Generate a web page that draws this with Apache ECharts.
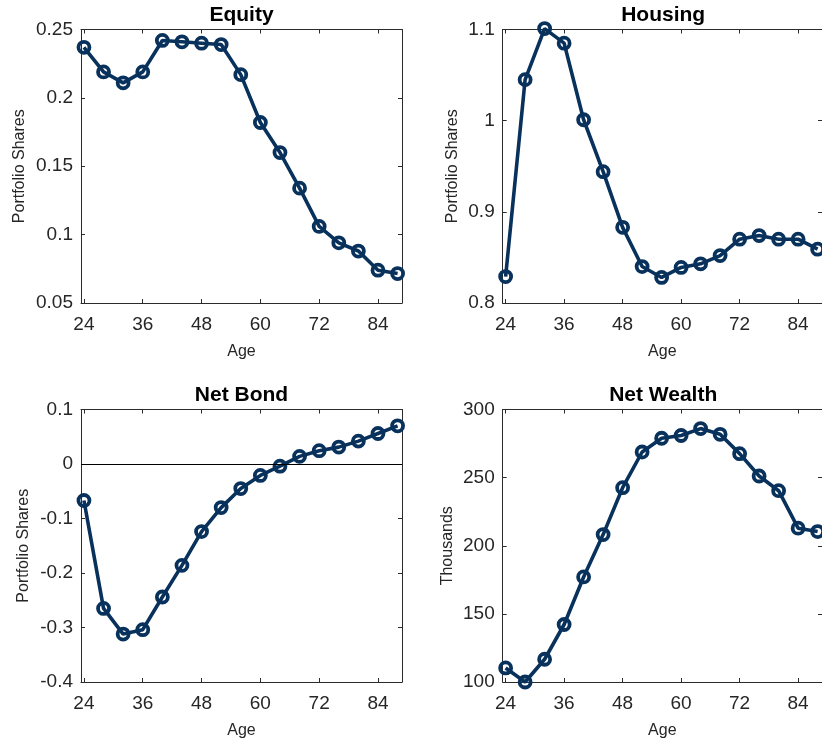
<!DOCTYPE html>
<html>
<head>
<meta charset="utf-8">
<title>Life-cycle portfolio profiles</title>
<script src="https://cdn.jsdelivr.net/npm/echarts@6/dist/echarts.min.js"></script>
<style>
  html, body { margin: 0; padding: 0; background: #ffffff; }
  #chart { width: 822px; height: 744px; }
</style>
</head>
<body>
<div id="chart"></div>
<script>
// Age profile, every four years
const ages = [24, 28, 32, 36, 40, 44, 48, 52, 56, 60, 64, 68, 72, 76, 80, 84, 88];

// Portfolio shares by age
const equityShares  = [0.237, 0.219, 0.211, 0.219, 0.242, 0.241, 0.240, 0.239, 0.217, 0.182, 0.160, 0.134, 0.106, 0.094, 0.088, 0.074, 0.0715];
const housingShares = [0.829, 1.045, 1.101, 1.085, 1.001, 0.944, 0.883, 0.840, 0.828, 0.839, 0.843, 0.852, 0.870, 0.874, 0.870, 0.870, 0.859];
const netBondShares = [-0.067, -0.265, -0.312, -0.304, -0.244, -0.186, -0.124, -0.080, -0.045, -0.021, -0.004, 0.014, 0.0245, 0.031, 0.042, 0.056, 0.070];

// Net wealth, thousands
const netWealth = [110.3, 100.0, 116.7, 142.2, 177.1, 208.2, 242.6, 268.8, 278.9, 280.9, 286.0, 281.8, 267.6, 251.2, 240.4, 212.9, 210.4];

// Tick values
const ageTicks     = [24, 36, 48, 60, 72, 84];
const equityTicks  = [0.05, 0.1, 0.15, 0.2, 0.25];
const housingTicks = [0.8, 0.9, 1, 1.1];
const bondTicks    = [-0.4, -0.3, -0.2, -0.1, 0, 0.1];
const wealthTicks  = [100, 150, 200, 250, 300];

const LINE = '#08315c';
const AXIS = '#2b2b2b';
const TEXT = '#262626';
const FONT = 'Liberation Sans, Arial, Helvetica, sans-serif';

const panels = [
  { title: 'Equity',     data: equityShares,  ticks: equityTicks,  yMin: 0.05, yMax: 0.25, yName: 'Portfolio Shares', nameGap: 53,
    grid: { left: 81, top: 29.5, width: 321, height: 273.5 } },
  { title: 'Housing',    data: housingShares, ticks: housingTicks, yMin: 0.8,  yMax: 1.1,  yName: 'Portfolio Shares', nameGap: 42,
    grid: { left: 502.7, top: 29.5, width: 321, height: 273.5 } },
  { title: 'Net Bond',   data: netBondShares, ticks: bondTicks,    yMin: -0.4, yMax: 0.1,  yName: 'Portfolio Shares', nameGap: 49,
    grid: { left: 81, top: 409.5, width: 321, height: 272.5 }, zeroLine: true },
  { title: 'Net Wealth', data: netWealth,     ticks: wealthTicks,  yMin: 100,  yMax: 300,  yName: 'Thousands',        nameGap: 47,
    grid: { left: 502.7, top: 409.5, width: 321, height: 272.5 } }
];

const X_MIN = 23.4, X_MAX = 88.9;

const grids = [], xAxes = [], yAxes = [], series = [], titles = [];

panels.forEach((p, i) => {
  grids.push(p.grid);

  titles.push({
    text: p.title,
    left: p.grid.left + p.grid.width / 2,
    top: p.grid.top - 25,
    textAlign: 'center',
    padding: 0,
    textStyle: { fontFamily: FONT, fontSize: 21, fontWeight: 'bold', color: '#000000' }
  });

  const tickStyle = { show: true, inside: true, length: 4, lineStyle: { color: AXIS, width: 1 } };
  const lineStyle = { show: true, onZero: false, lineStyle: { color: AXIS, width: 1 } };

  // bottom x axis with labels
  xAxes.push({
    type: 'value', gridIndex: i, position: 'bottom', min: X_MIN, max: X_MAX,
    name: 'Age', nameLocation: 'middle', nameGap: 41,
    nameTextStyle: { fontFamily: FONT, fontSize: 16, color: TEXT },
    axisLine: lineStyle,
    axisTick: Object.assign({ customValues: ageTicks }, tickStyle),
    axisLabel: { customValues: ageTicks, margin: 12, fontFamily: FONT, fontSize: 19, color: TEXT },
    splitLine: { show: false }
  });
  // top frame edge
  xAxes.push({
    type: 'value', gridIndex: i, position: 'top', min: X_MIN, max: X_MAX,
    axisLine: lineStyle,
    axisTick: Object.assign({ customValues: ageTicks }, tickStyle),
    axisLabel: { show: false },
    splitLine: { show: false }
  });
  // left y axis with labels
  yAxes.push({
    type: 'value', gridIndex: i, position: 'left', min: p.yMin, max: p.yMax,
    name: p.yName, nameLocation: 'middle', nameGap: p.nameGap, nameRotate: 90,
    nameTextStyle: { fontFamily: FONT, fontSize: 16, color: TEXT },
    axisLine: lineStyle,
    axisTick: Object.assign({ customValues: p.ticks }, tickStyle),
    axisLabel: { customValues: p.ticks, margin: 8, fontFamily: FONT, fontSize: 19, color: TEXT,
                 formatter: v => String(+v.toFixed(4)) },
    splitLine: { show: false }
  });
  // right frame edge
  yAxes.push({
    type: 'value', gridIndex: i, position: 'right', min: p.yMin, max: p.yMax,
    axisLine: lineStyle,
    axisTick: Object.assign({ customValues: p.ticks }, tickStyle),
    axisLabel: { show: false },
    splitLine: { show: false }
  });

  const s = {
    type: 'line',
    xAxisIndex: i * 2, yAxisIndex: i * 2,
    data: ages.map((a, k) => [a, p.data[k]]),
    clip: false,
    symbol: 'circle',
    symbolSize: 11,
    lineStyle: { color: LINE, width: 3.6 },
    itemStyle: { color: 'rgba(0,0,0,0)', borderColor: LINE, borderWidth: 3.8 },
    emphasis: { disabled: true },
    z: 3
  };
  if (p.zeroLine) {
    s.markLine = {
      silent: true, symbol: 'none', animation: false,
      label: { show: false },
      lineStyle: { color: '#000000', width: 1, type: 'solid' },
      data: [{ yAxis: 0 }]
    };
  }
  series.push(s);
});

const chart = echarts.init(document.getElementById('chart'), null, { renderer: 'canvas' });
chart.setOption({
  animation: false,
  backgroundColor: '#ffffff',
  title: titles,
  grid: grids,
  xAxis: xAxes,
  yAxis: yAxes,
  series: series
});
</script>
</body>
</html>
